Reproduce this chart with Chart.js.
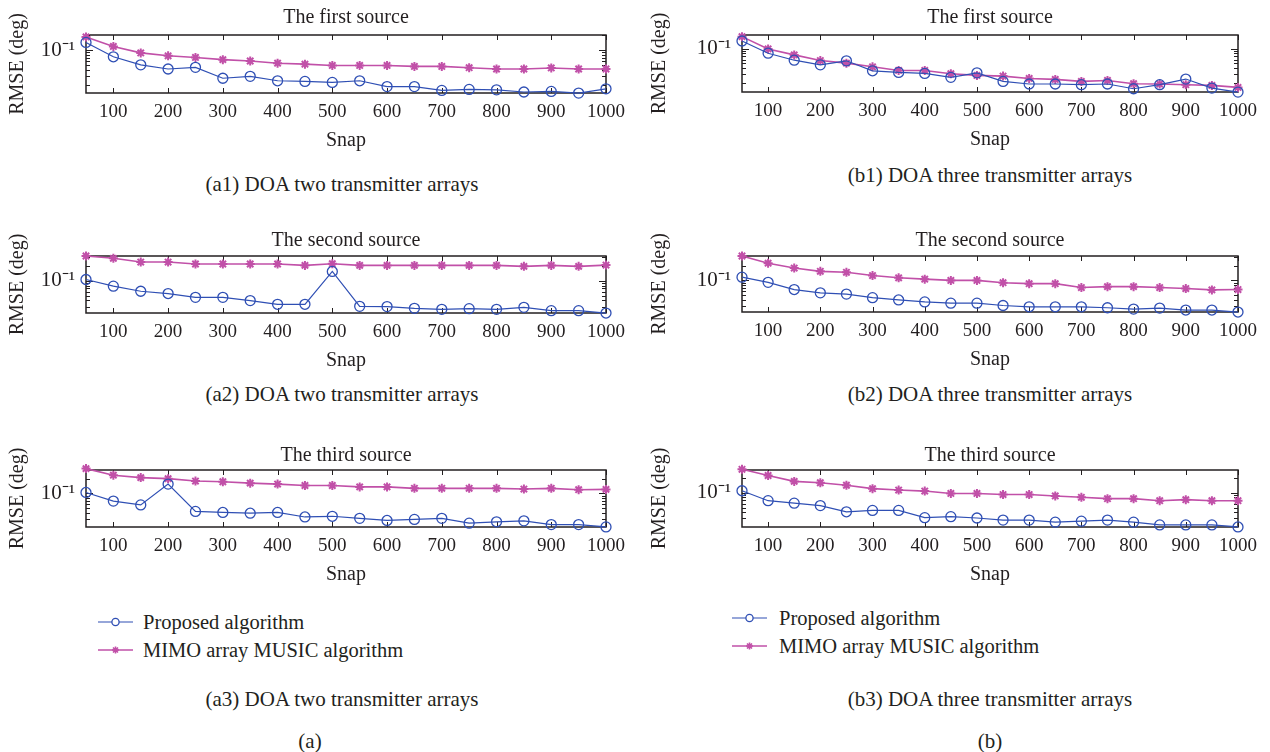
<!DOCTYPE html>
<html>
<head>
<meta charset="utf-8">
<script src="https://cdn.jsdelivr.net/npm/chart.js@4.4.1/dist/chart.umd.min.js"></script>
<style>
  body { margin: 0; background: #fff; }
  #page { position: relative; width: 1270px; height: 752px; overflow: hidden;
          font-family: "Liberation Serif", "DejaVu Serif", serif; color: #231f20; }
  #page canvas { position: absolute; }
  .cap { position: absolute; font-size: 21px; white-space: nowrap; transform: translate(-50%, -50%); }
  .legend { position: absolute; font-size: 20.5px; }
  .legend .row { display: flex; align-items: center; height: 28px; white-space: nowrap; }
</style>
</head>
<body>
<div id="page"></div>
<script>
'use strict';

const snaps = [50, 100, 150, 200, 250, 300, 350, 400, 450, 500,
               550, 600, 650, 700, 750, 800, 850, 900, 950, 1000];
const xTicks = [100, 200, 300, 400, 500, 600, 700, 800, 900, 1000];
const sourceTitles = ['The first source', 'The second source', 'The third source'];
const seriesNames = ['Proposed algorithm', 'MIMO array MUSIC algorithm'];

// RMSE, two transmitter arrays
const a1Proposed = [0.142, 0.0733, 0.0507, 0.0418, 0.0451, 0.0273, 0.0298, 0.0243, 0.0236, 0.0225,
                    0.0243, 0.0186, 0.0186, 0.0156, 0.0163, 0.0160, 0.0145, 0.0149, 0.0138, 0.0168];
const a1Music    = [0.183, 0.118, 0.0877, 0.0767, 0.0711, 0.0643, 0.0604, 0.0546, 0.0522, 0.0492,
                    0.0492, 0.0492, 0.0471, 0.0471, 0.0444, 0.0418, 0.0418, 0.0438, 0.0418, 0.0418];
const a2Proposed = [0.1065, 0.0778, 0.0614, 0.0551, 0.0462, 0.0462, 0.0396, 0.0333, 0.0333, 0.155,
                    0.0303, 0.0299, 0.0276, 0.0263, 0.0271, 0.0263, 0.0289, 0.0247, 0.0247, 0.0221];
const a2Music    = [0.32, 0.287, 0.241, 0.241, 0.22, 0.22, 0.22, 0.22, 0.206, 0.223,
                    0.206, 0.206, 0.206, 0.206, 0.206, 0.206, 0.197, 0.206, 0.197, 0.209];
const a3Proposed = [0.1047, 0.070, 0.0585, 0.155, 0.0431, 0.0410, 0.0396, 0.0410, 0.0332, 0.0343,
                    0.0311, 0.0282, 0.0296, 0.0311, 0.0248, 0.0265, 0.0277, 0.0232, 0.0232, 0.0208];
const a3Music    = [0.32, 0.235, 0.210, 0.200, 0.179, 0.173, 0.162, 0.155, 0.145, 0.145,
                    0.136, 0.136, 0.127, 0.127, 0.127, 0.127, 0.123, 0.127, 0.119, 0.121];

// RMSE, three transmitter arrays
const b1Proposed = [0.1435, 0.0809, 0.0583, 0.0470, 0.0567, 0.0355, 0.0329, 0.0314, 0.0261, 0.0323,
                    0.0216, 0.0191, 0.0191, 0.0185, 0.0191, 0.0153, 0.0185, 0.0241, 0.0158, 0.0131];
const b1Music    = [0.176, 0.099, 0.0748, 0.0574, 0.0508, 0.0428, 0.0361, 0.0361, 0.0309, 0.0286,
                    0.0277, 0.0248, 0.0237, 0.0216, 0.0226, 0.0194, 0.0191, 0.0185, 0.0179, 0.0163];
const b2Proposed = [0.1165, 0.0910, 0.0646, 0.0553, 0.0520, 0.0439, 0.0393, 0.0358, 0.0337, 0.0337,
                    0.0302, 0.0284, 0.0284, 0.0284, 0.0271, 0.0254, 0.0267, 0.0243, 0.0243, 0.0221];
const b2Music    = [0.32, 0.227, 0.180, 0.154, 0.147, 0.126, 0.113, 0.106, 0.0999, 0.0999,
                    0.0895, 0.0855, 0.0855, 0.0710, 0.0742, 0.0742, 0.0710, 0.0678, 0.0636, 0.0646];
const b3Proposed = [0.1097, 0.0688, 0.0613, 0.0548, 0.0409, 0.0437, 0.0437, 0.0311, 0.0326, 0.0306,
                    0.0277, 0.0277, 0.0252, 0.0264, 0.0277, 0.0252, 0.0221, 0.0221, 0.0221, 0.0201];
const b3Music    = [0.300, 0.224, 0.170, 0.1595, 0.142, 0.121, 0.1134, 0.108, 0.0965, 0.0965,
                    0.0919, 0.0919, 0.0860, 0.0806, 0.0757, 0.0757, 0.0688, 0.0722, 0.0688, 0.0688];

const captions = [
  ['(a1) DOA two transmitter arrays', 342, 184],
  ['(b1) DOA three transmitter arrays', 990, 175],
  ['(a2) DOA two transmitter arrays', 342, 394],
  ['(b2) DOA three transmitter arrays', 990, 394],
  ['(a3) DOA two transmitter arrays', 342, 699],
  ['(b3) DOA three transmitter arrays', 990, 699],
  ['(a)', 310, 741],
  ['(b)', 990, 741]
];

const BLUE = '#2f4fb4';
const PINK = '#c150a8';
const INK = '#231f20';
const FONT = 'Liberation Serif';

Chart.defaults.font.family = FONT;
Chart.defaults.color = INK;

// box with inward ticks on all four sides
const framePlugin = {
  id: 'frame',
  beforeDatasetsDraw(chart) {
    const {ctx, chartArea: a, scales: {x, y}} = chart;
    ctx.save();
    ctx.strokeStyle = INK;
    ctx.lineWidth = 1;
    ctx.beginPath();
    xTicks.forEach(v => {
      const px = Math.round(x.getPixelForValue(v)) + 0.5;
      ctx.moveTo(px, a.bottom); ctx.lineTo(px, a.bottom - 5);
      ctx.moveTo(px, a.top); ctx.lineTo(px, a.top + 5);
    });
    for (let e = -2; e <= 0; e++) {
      for (let m = 1; m <= 9; m++) {
        const v = m * Math.pow(10, e);
        if (v < y.min || v > y.max) continue;
        const py = Math.round(y.getPixelForValue(v)) + 0.5;
        const len = m === 1 ? 7 : 4;
        ctx.moveTo(a.left, py); ctx.lineTo(a.left + len, py);
        ctx.moveTo(a.right, py); ctx.lineTo(a.right - len, py);
      }
    }
    ctx.stroke();
    ctx.lineWidth = 1.5;
    ctx.strokeRect(a.left, a.top, a.right - a.left, a.bottom - a.top);
    ctx.restore();
  }
};

// gap = distance from the plot top to the title's centre line
const panels = [
  {left: 0,   area: [86, 606, 35, 93],     gap: 17, yMin: 0.01384, yMax: 0.2,  title: sourceTitles[0], proposed: a1Proposed, music: a1Music},
  {left: 642, area: [742, 1238, 35, 92],   gap: 17, yMin: 0.01314, yMax: 0.19, title: sourceTitles[0], proposed: b1Proposed, music: b1Music},
  {left: 0,   area: [86, 606, 256, 313],   gap: 15, yMin: 0.02214, yMax: 0.32, title: sourceTitles[1], proposed: a2Proposed, music: a2Music},
  {left: 642, area: [742, 1238, 256, 312], gap: 15, yMin: 0.02214, yMax: 0.32, title: sourceTitles[1], proposed: b2Proposed, music: b2Music},
  {left: 0,   area: [86, 606, 470, 527],   gap: 14, yMin: 0.02075, yMax: 0.3,  title: sourceTitles[2], proposed: a3Proposed, music: a3Music},
  {left: 642, area: [742, 1238, 470, 527], gap: 14, yMin: 0.02006, yMax: 0.29, title: sourceTitles[2], proposed: b3Proposed, music: b3Music}
];

const page = document.getElementById('page');
const toPoints = arr => snaps.map((s, i) => ({x: s, y: arr[i]}));

const proposedStyle = {
  borderColor: BLUE, borderWidth: 1.2, pointStyle: 'circle', pointRadius: 5,
  pointBorderWidth: 1.3, pointBackgroundColor: 'rgba(0,0,0,0)', pointBorderColor: BLUE
};
const musicStyle = {
  borderColor: PINK, borderWidth: 1.6, pointStyle: 'star', pointRadius: 4.5,
  pointBorderWidth: 2, pointBackgroundColor: PINK, pointBorderColor: PINK
};

panels.forEach(p => {
  const [aLeft, aRight, aTop, aBottom] = p.area;
  const top = aTop - 35;
  const width = aRight + 30 - p.left;
  const height = (aBottom - aTop) + 35 + 60;
  const titleTop = 23 - p.gap;
  const canvas = document.createElement('canvas');
  canvas.width = width;
  canvas.height = height;
  canvas.style.left = p.left + 'px';
  canvas.style.top = top + 'px';
  page.appendChild(canvas);

  new Chart(canvas, {
    type: 'line',
    data: {
      datasets: [
        Object.assign({label: seriesNames[0], data: toPoints(p.proposed), order: 1}, proposedStyle),
        Object.assign({label: seriesNames[1], data: toPoints(p.music), order: 2}, musicStyle)
      ]
    },
    options: {
      responsive: false,
      animation: false,
      devicePixelRatio: 1,
      layout: {padding: {left: 0, right: 30, top: 0, bottom: 0}},
      elements: {line: {tension: 0}},
      datasets: {line: {clip: false}},
      plugins: {
        legend: {display: false},
        tooltip: {enabled: false},
        title: {
          display: true, text: p.title, fullSize: false,
          font: {size: 20, weight: 'normal', family: FONT},
          padding: {top: titleTop, bottom: 11 - titleTop}
        }
      },
      scales: {
        x: {
          type: 'linear', min: 50, max: 1000,
          grid: {display: false, drawTicks: false},
          border: {display: false},
          afterBuildTicks: s => { s.ticks = xTicks.map(v => ({value: v})); },
          afterFit: s => { s.height = 60; },
          ticks: {autoSkip: false, maxRotation: 0, padding: 8, font: {size: 19}, callback: v => String(v)},
          title: {display: true, text: 'Snap', font: {size: 20}, padding: {top: 0, bottom: 0}}
        },
        y: {
          type: 'logarithmic', min: p.yMin, max: p.yMax,
          grid: {display: false, drawTicks: false},
          border: {display: false},
          afterBuildTicks: s => { s.ticks = [{value: 0.1}]; },
          afterFit: s => { s.width = aLeft - p.left; },
          ticks: {autoSkip: false, padding: 11, font: {size: 21}, callback: () => '10\u207B\u00B9'},
          title: {display: true, text: 'RMSE (deg)', font: {size: 20}, padding: {top: 6, bottom: 0}}
        }
      }
    },
    plugins: [framePlugin]
  });
});

captions.forEach(([text, x, y]) => {
  const d = document.createElement('div');
  d.className = 'cap';
  d.textContent = text;
  d.style.left = x + 'px';
  d.style.top = y + 'px';
  page.appendChild(d);
});

// legends built from the series styles
function markerSvg(style, isStar, gap) {
  const c = style.borderColor;
  const mark = isStar
    ? `<path d="M17.5 3.5v7M14 7h7M15 4.5l5 5M20 4.5l-5 5" stroke="${c}" stroke-width="1.6"/>`
    : `<circle cx="17.5" cy="7" r="3.6" fill="#fff" stroke="${c}" stroke-width="1.3"/>`;
  return `<svg width="35" height="14" style="margin-right:${gap}px"><line x1="0" y1="7" x2="35" y2="7" stroke="${c}" stroke-width="${style.borderWidth}"/>${mark}</svg>`;
}

[[98, 608, 10], [732, 604, 12]].forEach(([x, y, gap]) => {
  const box = document.createElement('div');
  box.className = 'legend';
  box.style.left = x + 'px';
  box.style.top = y + 'px';
  box.innerHTML =
    `<div class="row">${markerSvg(proposedStyle, false, gap)}<span>${seriesNames[0]}</span></div>` +
    `<div class="row">${markerSvg(musicStyle, true, gap)}<span>${seriesNames[1]}</span></div>`;
  page.appendChild(box);
});
</script>
</body>
</html>
